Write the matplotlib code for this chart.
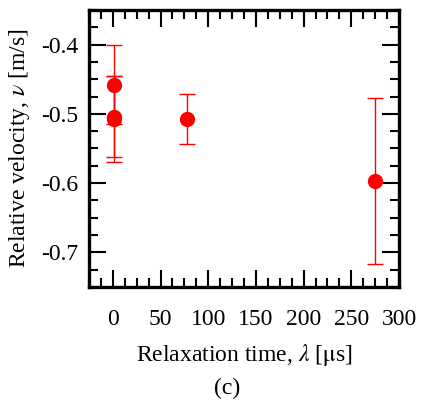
import numpy as np
import matplotlib.pyplot as plt
from matplotlib.ticker import MultipleLocator

plt.rcParams['font.family'] = 'Liberation Serif'
plt.rcParams['mathtext.fontset'] = 'stix'

# data
relax_time = [1, 1, 1, 78, 275]
velocity = [-0.458, -0.504, -0.508, -0.508, -0.597]
vel_err = [0.057, 0.058, 0.062, 0.036, 0.120]

fig = plt.figure(figsize=(4.22, 4.07), dpi=100)
ax = fig.add_axes([0.211, 0.295, 0.7345, 0.6805])

ax.errorbar(relax_time, velocity, yerr=vel_err, fmt='o', color='red',
            markersize=10, elinewidth=1, capsize=6, capthick=1)

ax.set_xlim(-25, 300)
ax.set_ylim(-0.75, -0.35)
ax.xaxis.set_major_locator(MultipleLocator(50))
ax.xaxis.set_minor_locator(MultipleLocator(12.5))
ax.yaxis.set_major_locator(MultipleLocator(0.1))
ax.yaxis.set_minor_locator(MultipleLocator(0.025))
ax.set_yticks([-0.4, -0.5, -0.6, -0.7])
ax.set_yticklabels(['-0.4', '-0.5', '-0.6', '-0.7'])

ax.tick_params(which='both', direction='in', top=True, right=True, width=1.5)
ax.tick_params(which='major', length=12)
ax.tick_params(which='minor', length=6.5)
ax.tick_params(axis='x', labelsize=17, pad=16)
ax.tick_params(axis='y', labelsize=17, pad=8)
for s in ax.spines.values():
    s.set_linewidth(2.4)

ax.set_xlabel(r'Relaxation time, $\lambda$ [$\mathrm{\mu}$s]', fontsize=17, va='center')
ax.set_ylabel(r'Relative velocity, $\nu$ [m/s]', fontsize=17, va='center')
ax.xaxis.set_label_coords(0.5, -0.245)
ax.yaxis.set_label_coords(-0.223, 0.5)
fig.text(227 / 422, 1 - 388 / 407, '(c)', fontsize=17, ha='center', va='center')

fig.savefig('out.png', dpi=100)
